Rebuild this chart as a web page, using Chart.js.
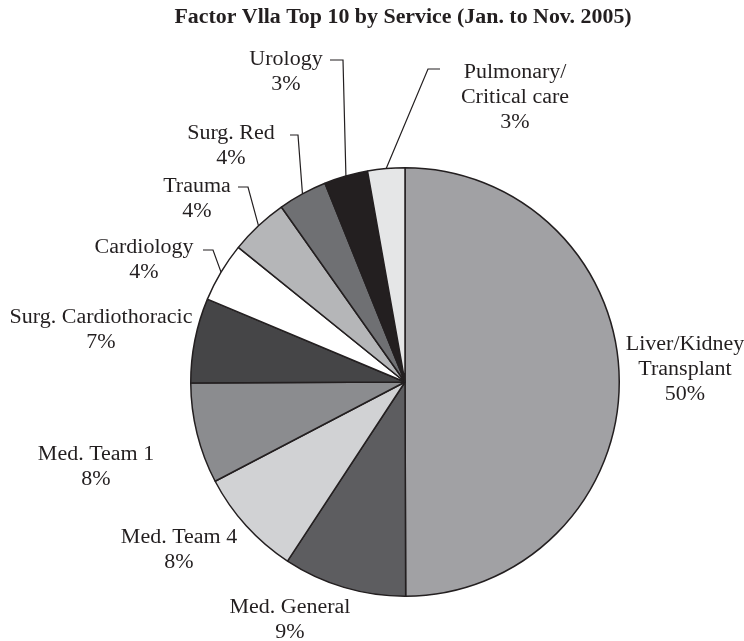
<!DOCTYPE html>
<html>
<head>
<meta charset="utf-8">
<script src="https://cdn.jsdelivr.net/npm/chart.js@4.4.0/dist/chart.umd.min.js"></script>
<style>
  html, body { margin: 0; padding: 0; background: #fff; }
</style>
</head>
<body>
<canvas id="serviceChart" width="744" height="641"></canvas>
<script>
// slices go clockwise from 12 o'clock
const services = ['Liver/Kidney\nTransplant', 'Med. General', 'Med. Team 4', 'Med. Team 1', 'Surg. Cardiothoracic',
    'Cardiology', 'Trauma', 'Surg. Red', 'Urology', 'Pulmonary/\nCritical care'];
const shares = [50, 9.3, 8.1, 7.6, 6.4, 4.5, 4.4, 3.7, 3.3, 2.8];
const printedPct = ['50%', '9%', '8%', '8%', '7%', '4%', '4%', '4%', '3%', '3%'];
const sliceColors = ['#a1a1a4', '#5d5d60', '#d1d2d4', '#8b8c8f', '#454547',
    '#ffffff', '#b5b6b8', '#6f7073', '#231f20', '#e5e6e7'];

const chartTitle = 'Factor Vlla Top 10 by Service (Jan. to Nov. 2005)';

// where each label sits (first baseline) and the elbow of its leader line
const labelSpots = [
    {x: 685, y: 350},
    {x: 290, y: 613},
    {x: 179, y: 543},
    {x: 96, y: 460},
    {x: 101, y: 323},
    {x: 144, y: 253, elbow: [203, 213, 250]},
    {x: 197, y: 192, elbow: [238, 248, 187]},
    {x: 231, y: 139, elbow: [290, 298, 135]},
    {x: 286, y: 65, elbow: [330, 343, 60]},
    {x: 515, y: 78, elbow: [440, 428, 69]}
];

const ink = '#231f20';
const lineGap = 25;

function wideText(ctx, str, x, y, sx) {
    ctx.save();
    ctx.translate(x, y);
    ctx.scale(sx, 1);
    ctx.fillText(str, 0, 0);
    ctx.restore();
}

const pieLabels = {
    id: 'pieLabels',
    afterDraw(chart) {
        const ctx = chart.ctx;
        const meta = chart.getDatasetMeta(0);

        ctx.save();
        ctx.fillStyle = ink;
        ctx.textAlign = 'center';
        ctx.textBaseline = 'alphabetic';

        // title
        ctx.font = 'bold 20px "Liberation Serif", serif';
        wideText(ctx, chartTitle, 403, 23, 1.095);

        ctx.font = '20px "Liberation Serif", serif';
        ctx.strokeStyle = ink;
        ctx.lineWidth = 1.2;

        meta.data.forEach((arc, i) => {
            const spot = labelSpots[i];
            const lines = services[i].split('\n').concat([printedPct[i]]);
            lines.forEach((ln, k) => {
                wideText(ctx, ln, spot.x, spot.y + k * lineGap, 1.1);
            });

            if (spot.elbow) {
                const p = arc.getProps(['x', 'y', 'startAngle', 'endAngle', 'outerRadius'], true);
                const mid = (p.startAngle + p.endAngle) / 2;
                const ax = p.x + Math.cos(mid) * p.outerRadius;
                const ay = p.y + Math.sin(mid) * p.outerRadius;
                ctx.beginPath();
                ctx.moveTo(spot.elbow[0], spot.elbow[2]);
                ctx.lineTo(spot.elbow[1], spot.elbow[2]);
                ctx.lineTo(ax, ay);
                ctx.stroke();
            }
        });
        ctx.restore();
    }
};

const serviceCtx = document.getElementById('serviceChart');
new Chart(serviceCtx, {
    type: 'pie',
    data: {
        labels: services,
        datasets: [{
            data: shares,
            backgroundColor: sliceColors,
            borderColor: ink,
            borderWidth: 1.5
        }]
    },
    options: {
        responsive: false,
        animation: false,
        events: [],
        layout: {
            padding: {left: 190, right: 124, top: 167, bottom: 44}
        },
        plugins: {
            legend: {display: false},
            tooltip: {enabled: false},
            title: {display: false}
        }
    },
    plugins: [pieLabels]
});
</script>
</body>
</html>
